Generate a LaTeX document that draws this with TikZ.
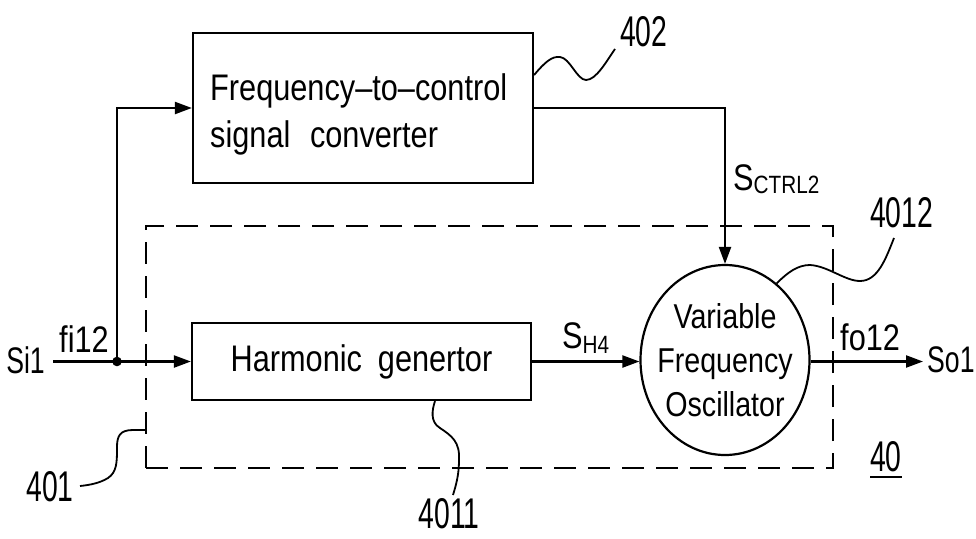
\documentclass[tikz,border=0pt]{standalone}
\usepackage{fontspec}
\setmainfont{Liberation Sans}[FakeStretch=0.83]
\newfontfamily\numfont{Liberation Sans}[FakeStretch=0.66]
\newfontfamily\narrowfont{Liberation Sans}[FakeStretch=0.72]
\usetikzlibrary{arrows.meta,shapes.geometric,calc}

\begin{document}
\begin{tikzpicture}[x=1pt,y=-1pt,
  every node/.style={inner sep=0pt},
  wire/.style={line width=2.2pt},
  sig/.style={wire,-{Triangle[length=17pt,width=12pt]}},
  blockbox/.style={draw,line width=2.2pt,rectangle},
  txt/.style={font=\fontsize{37}{44}\selectfont},
  termtxt/.style={font=\narrowfont\fontsize{37}{44}\selectfont},
  vfotxt/.style={font=\fontsize{34.5}{44}\selectfont,align=center},
  refnum/.style={font=\numfont\fontsize{43}{50}\selectfont},
  leader/.style={line width=1.8pt},
  frame/.style={draw,line width=1.8pt,dash pattern=on 22pt off 12pt}]
\useasboundingbox (0,0) rectangle (976,538);

% module 40: dashed enclosure
\node[frame,minimum width=687pt,minimum height=242pt] (mod) at (489.5,347) {};

% blocks
\node[blockbox,minimum width=340pt,minimum height=150pt] (conv) at (363,108) {};
\node[align=left,anchor=base west,font=\fontsize{37}{47}\selectfont] (convtext) at (210,147)
      {Frequency--to--control\\signal\hspace{0.3em} converter};
\node[blockbox,txt,minimum width=339pt,minimum height=77pt] (harm) at (361.5,361.5)
      {Harmonic\hspace{0.2em} genertor};
\node[draw,line width=2.2pt,ellipse,minimum width=169pt,minimum height=190pt] (vfo) at (725,360) {};
\node[vfotxt] (vfotext) at (vfo.center) {Variable\\Frequency\\Oscillator};

% terminals and signal labels
\node[termtxt,anchor=base east] (si) at (45,373) {Si1};
\node[termtxt,anchor=base west] (so) at (927,372) {So1};
\node[txt,anchor=base] (fi) at (84,352) {fi12};
\node[txt,anchor=base west] (fo) at (840,350) {fo12};
\node[txt,anchor=base west] (sh) at (562,348) {S\raisebox{-5pt}{\fontsize{25}{25}\selectfont H4}};
\node[txt,anchor=base west] (sc) at (733,190) {S\raisebox{-3pt}{\fontsize{25}{25}\selectfont CTRL2}};

% reference numerals
\node[refnum,anchor=base west] (n402) at (620,46) {402};
\node[refnum,anchor=base west] (n4012) at (870,227) {4012};
\node[refnum,anchor=base] (n4011) at (449,528) {4011};
\node[refnum,anchor=base] (n401) at (50,501) {401};
\node[refnum,anchor=base west] (n40) at (870,471) {40};
\draw[line width=2pt] ([yshift=-6pt]n40.base west) -- ([yshift=-6pt]n40.base east);

% signal paths
\coordinate (in) at (53,361.5);
\coordinate (j) at (117,361.5);
\draw[wire] (in) -- (j);
\fill (j) circle (4.8);
\draw[sig] (j) -- (harm.west);
\draw[sig] (j) |- (conv.west);
\draw[sig] (harm.east) -- (harm.east -| vfo.west);
\draw[sig] (conv.east) -| (vfo.north);
\draw[sig,shorten >=4pt] (vfo.east |- harm.east) -- (harm.east -| so.west);

% leader lines
\draw[leader] ([yshift=33pt]conv.east) .. controls (545,62) and (552,56) .. (560,57)
  .. controls (570,58) and (577,80) .. (586,80)
  .. controls (596,80) and (606,62) .. (615,49);
\draw[leader] (vfo.56) .. controls (788,272) and (798,265) .. (810,265)
  .. controls (828,266) and (845,281) .. (860,281)
  .. controls (878,281) and (886,258) .. (894,238);
\draw[leader] ([xshift=73.5pt]harm.south) .. controls (432,410) and (430,422) .. (440,428)
  .. controls (452,436) and (460,442) .. (459,460)
  .. controls (459,475) and (456,485) .. (453,495);
\draw[leader] ([yshift=-83pt]mod.west) -- (133,430)
  .. controls (120,430) and (117,436) .. (117,447)
  .. controls (117,462) and (117,472) .. (108,478)
  .. controls (100,483) and (90,485) .. (80,486);
\end{tikzpicture}
\end{document}
